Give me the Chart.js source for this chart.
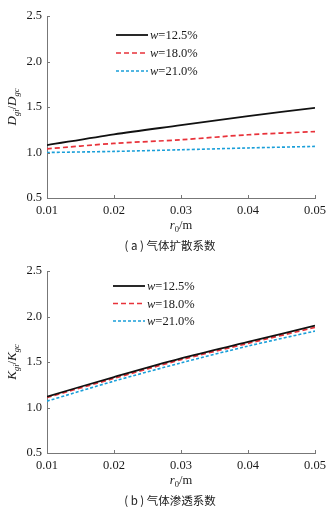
<!DOCTYPE html>
<html><head><meta charset="utf-8">
<script src="https://cdn.jsdelivr.net/npm/chart.js@4"></script>
<style>
html,body{margin:0;padding:0;background:#fff;}
.wrap{position:relative;width:336px;}
canvas{display:block;}
</style></head>
<body>
<div class="wrap" style="height:255px"><canvas id="c1" width="336" height="255"></canvas></div>
<div class="wrap" style="height:262px"><canvas id="c2" width="336" height="262"></canvas></div>
<script>
// ---- data ----
const rValues = [0.01, 0.02, 0.03, 0.04, 0.05];
const xTicks = [0.01, 0.02, 0.03, 0.04, 0.05];
const yTicks = [0.5, 1.0, 1.5, 2.0, 2.5];
const seriesLabels = ['12.5%', '18.0%', '21.0%'];
// (a) gas diffusion coefficient ratio
const dW125 = [1.08, 1.20, 1.30, 1.40, 1.49];
const dW180 = [1.04, 1.10, 1.14, 1.195, 1.23];
const dW210 = [1.00, 1.012, 1.03, 1.05, 1.067];
// (b) gas permeability coefficient ratio
const kW125 = [1.12, 1.335, 1.54, 1.72, 1.90];
const kW180 = [1.11, 1.32, 1.525, 1.705, 1.88];
const kW210 = [1.07, 1.29, 1.49, 1.675, 1.84];

const SERIF = '"Liberation Serif", "DejaVu Serif", serif';
const CJK = '"Noto Sans CJK SC", sans-serif';
const styles = [
  {color:'#111111', dash:[], width:1.8},
  {color:'#e8323a', dash:[5,3], width:1.7},
  {color:'#1a9fd9', dash:[3,2], width:1.6}
];

function mkDatasets(arrs){
  return arrs.map((a,i)=>({
    label: seriesLabels[i],
    data: rValues.map((x,j)=>({x:x, y:a[j]})),
    borderColor: styles[i].color,
    borderDash: styles[i].dash,
    borderWidth: styles[i].width,
    pointRadius: 0,
    tension: 0.3,
    fill:false
  }));
}

function subText(ctx, parts, x, y, align, base){
  base = base || 12.5; const sub = 8.5;
  let total = 0;
  parts.forEach(p=>{
    ctx.font = (p.italic?'italic ':'') + (p.sub?sub:base) + 'px ' + SERIF;
    p.w = ctx.measureText(p.t).width; total += p.w;
  });
  let cx = align==='center' ? x - total/2 : x;
  parts.forEach(p=>{
    ctx.font = (p.italic?'italic ':'') + (p.sub?sub:base) + 'px ' + SERIF;
    ctx.textAlign='left'; ctx.textBaseline='alphabetic';
    ctx.fillText(p.t, cx, y + (p.sub?3:0));
    cx += p.w;
  });
}

function makeDecor(yTitleParts, caption, legendX, legendY0, legendGap){
  return {
    id:'decor',
    afterDraw(chart){
      const ctx = chart.ctx, a = chart.chartArea;
      const xs = chart.scales.x, ys = chart.scales.y;
      ctx.save();
      // inward ticks
      ctx.strokeStyle='#777'; ctx.lineWidth=1;
      xTicks.forEach(v=>{
        const px = Math.round(xs.getPixelForValue(v))+0.5;
        ctx.beginPath(); ctx.moveTo(px, a.bottom); ctx.lineTo(px, a.bottom-3); ctx.stroke();
      });
      yTicks.forEach(v=>{
        const py = Math.round(ys.getPixelForValue(v))+0.5;
        ctx.beginPath(); ctx.moveTo(a.left, py); ctx.lineTo(a.left+3, py); ctx.stroke();
      });
      ctx.fillStyle='#1a1a1a';
      // x title
      subText(ctx, [{t:'r',italic:true},{t:'0',sub:true},{t:'/m'}], 181, 229, 'center');
      // y title rotated
      ctx.save();
      ctx.translate(16, 107);
      ctx.rotate(-Math.PI/2);
      subText(ctx, yTitleParts, 0, 0, 'center', 13);
      ctx.restore();
      // caption
      ctx.font = '11.5px ' + CJK;
      ctx.textAlign='center'; ctx.textBaseline='middle';
      ctx.fillStyle='#1a1a1a';
      ctx.fillText(caption, 170, 246);
      // legend
      chart.data.datasets.forEach((ds,i)=>{
        const y = legendY0 + i*legendGap;
        ctx.save();
        ctx.strokeStyle = ds.borderColor; ctx.lineWidth = ds.borderWidth;
        ctx.setLineDash(ds.borderDash);
        ctx.beginPath(); ctx.moveTo(legendX, y); ctx.lineTo(legendX+32, y); ctx.stroke();
        ctx.restore();
        ctx.fillStyle='#1a1a1a';
        subText(ctx, [{t:'w',italic:true},{t:'='+ds.label}], legendX+34, y+4, 'left');
      });
      ctx.restore();
    }
  };
}

function makeChart(id, canvasH, arrs, yTitleParts, caption, legendX, legendY0, legendGap){
  return new Chart(document.getElementById(id), {
    type:'line',
    data:{datasets: mkDatasets(arrs)},
    options:{
      responsive:false, animation:false,
      layout:{padding:{left:0,right:21,top:16,bottom:0}},
      plugins:{legend:{display:false}, tooltip:{enabled:false}},
      scales:{
        x:{type:'linear', min:0.01, max:0.05,
           afterBuildTicks(s){ s.ticks = xTicks.map(v=>({value:v})); },
           afterFit(s){ s.height = canvasH - 198; },
           grid:{display:true, drawOnChartArea:false, drawTicks:false},
           border:{display:true, color:'#777', width:1},
           ticks:{padding:5, color:'#1a1a1a', font:{family:SERIF, size:12.5},
                  callback:v=>Number(v).toFixed(2), maxRotation:0}},
        y:{type:'linear', min:0.5, max:2.5,
           afterBuildTicks(s){ s.ticks = yTicks.map(v=>({value:v})); },
           afterFit(s){ s.width = 47; },
           grid:{display:true, drawOnChartArea:false, drawTicks:false},
           border:{display:true, color:'#777', width:1},
           ticks:{padding:5, color:'#1a1a1a', font:{family:SERIF, size:12.5},
                  callback:v=>Number(v).toFixed(1)}}
      }
    },
    plugins:[makeDecor(yTitleParts, caption, legendX, legendY0, legendGap)]
  });
}

makeChart('c1', 255, [dW125, dW180, dW210],
  [{t:'D',italic:true},{t:'gi',sub:true,italic:true},{t:'/'},{t:'D',italic:true},{t:'gc',sub:true,italic:true}],
  '( a ) 气体扩散系数', 116, 35, 18);
makeChart('c2', 262, [kW125, kW180, kW210],
  [{t:'K',italic:true},{t:'gi',sub:true,italic:true},{t:'/'},{t:'K',italic:true},{t:'gc',sub:true,italic:true}],
  '( b ) 气体渗透系数', 113, 31, 17.5);
</script>
</body></html>
